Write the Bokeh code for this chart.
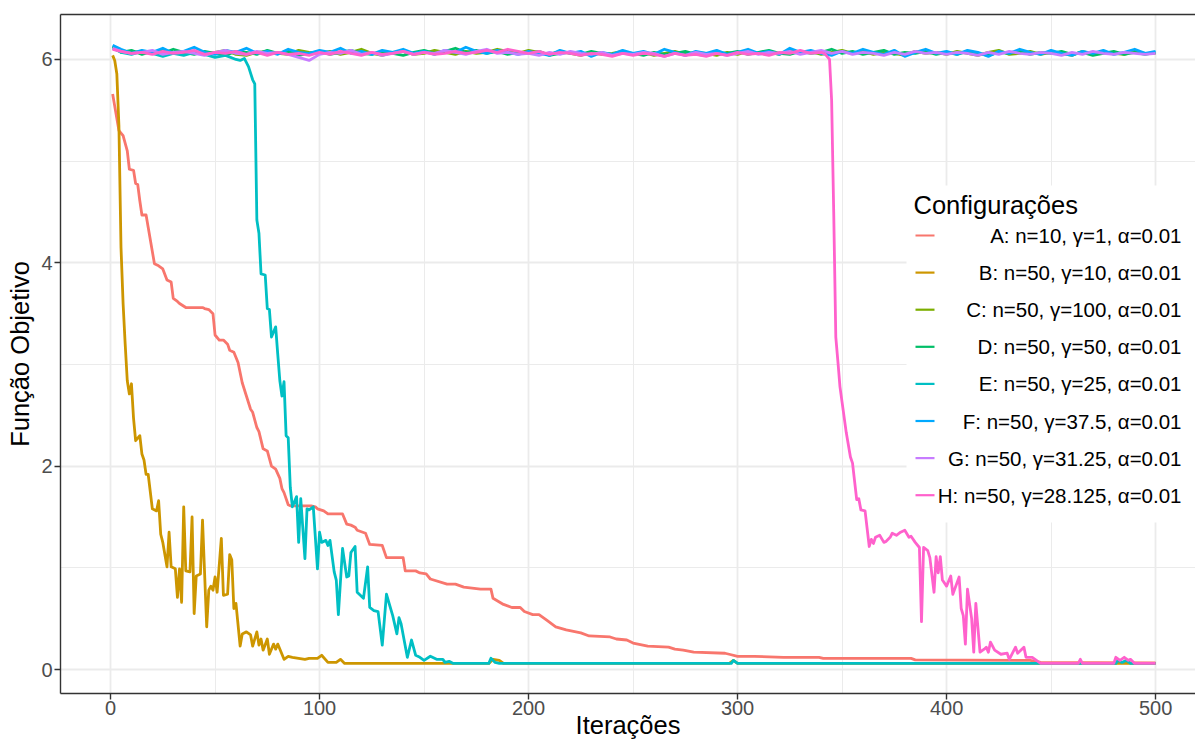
from bokeh.plotting import figure
from bokeh.models import ColumnDataSource, FixedTicker, LinearAxis, Range1d
from bokeh.core.properties import value
from bokeh.embed import file_html
from bokeh.resources import INLINE

# ---------------- data ----------------
SERIES_NAMES = ["A", "B", "C", "D", "E", "F", "G", "H"]
LABELS = ["A: n=10, γ=1, α=0.01", "B: n=50, γ=10, α=0.01", "C: n=50, γ=100, α=0.01",
          "D: n=50, γ=50, α=0.01", "E: n=50, γ=25, α=0.01", "F: n=50, γ=37.5, α=0.01",
          "G: n=50, γ=31.25, α=0.01", "H: n=50, γ=28.125, α=0.01"]
COLORS = ["#F8766D", "#CD9600", "#7CAE00", "#00BE67", "#00BFC4", "#00A9FF", "#C77CFF", "#FF61CC"]

X_TICKS = [0, 100, 200, 300, 400, 500]
X_MINOR = [50, 150, 250, 350, 450]
Y_TICKS = [0, 2, 4, 6]
Y_MINOR = [1, 3, 5]

# sampled iterations for the flat (non-converging) band
TOP_IT = [1] + list(range(5, 501, 5))

A_IT = [1, 4, 6, 8, 9, 11, 12, 13, 14, 15, 17, 18, 21, 23, 25, 27, 29, 30, 32, 33, 36, 44, 45, 47, 49,
        50, 52, 54, 56, 57, 59, 61, 63, 65, 67, 68, 70, 71, 73, 75, 77, 79, 81, 82, 83, 85, 86, 96, 98,
        99, 102, 104, 111, 113, 115, 117, 118, 122, 124, 130, 132, 140, 141, 146, 148, 151, 153, 161,
        165, 169, 177, 182, 183, 188, 192, 196, 198, 202, 205, 209, 213, 218, 225, 229, 239, 242, 247,
        250, 257, 267, 270, 274, 279, 294, 296, 300, 308, 322, 339, 341, 383, 385, 440, 445, 500]
A_VAL = [5.66, 5.30, 5.25, 5.10, 4.92, 4.91, 4.78, 4.77, 4.61, 4.47, 4.47, 4.35, 3.99, 3.97, 3.94, 3.83,
         3.81, 3.65, 3.62, 3.60, 3.56, 3.56, 3.55, 3.54, 3.50, 3.29, 3.24, 3.24, 3.20, 3.14, 3.12, 3.02,
         2.82, 2.69, 2.56, 2.53, 2.38, 2.34, 2.17, 2.15, 2.00, 1.97, 1.88, 1.78, 1.74, 1.62, 1.61, 1.61,
         1.60, 1.58, 1.56, 1.53, 1.53, 1.43, 1.42, 1.40, 1.37, 1.34, 1.23, 1.22, 1.10, 1.10, 0.97, 0.97,
         0.95, 0.94, 0.89, 0.84, 0.84, 0.81, 0.79, 0.79, 0.70, 0.64, 0.61, 0.61, 0.57, 0.54, 0.54, 0.48,
         0.42, 0.39, 0.36, 0.33, 0.32, 0.30, 0.29, 0.26, 0.23, 0.22, 0.20, 0.19, 0.17, 0.16, 0.15, 0.13,
         0.13, 0.12, 0.12, 0.11, 0.11, 0.095, 0.09, 0.07, 0.065]

B_IT = [1, 2, 3, 4, 5, 6, 7, 8, 9, 10, 11, 12, 14, 15, 16, 17, 18, 20, 22, 23, 24, 25, 27, 28, 29, 31,
        32, 33, 34, 35, 36, 38, 39, 40, 41, 43, 44, 46, 47, 48, 49, 50, 51, 53, 54, 56, 57, 58, 59, 60,
        62, 63, 65, 67, 68, 70, 71, 72, 73, 75, 76, 78, 79, 80, 83, 85, 87, 90, 93, 95, 99, 101, 104,
        108, 110, 112, 181, 183, 186, 188, 296, 298, 300, 500]
B_VAL = [6.04, 5.99, 5.86, 5.35, 4.15, 3.60, 3.20, 2.84, 2.71, 2.81, 2.47, 2.25, 2.30, 2.12, 2.06, 1.92,
         1.92, 1.58, 1.56, 1.66, 1.33, 1.25, 1.01, 1.35, 1.01, 0.99, 0.71, 0.99, 0.66, 1.60, 0.97, 0.96,
         1.50, 0.55, 0.92, 0.94, 1.47, 0.42, 0.78, 0.82, 0.78, 0.91, 0.76, 1.29, 0.73, 0.74, 1.13, 1.08,
         0.60, 0.65, 0.23, 0.35, 0.37, 0.34, 0.23, 0.37, 0.24, 0.30, 0.19, 0.30, 0.15, 0.25, 0.20, 0.25,
         0.10, 0.13, 0.12, 0.11, 0.10, 0.11, 0.11, 0.14, 0.07, 0.07, 0.10, 0.06, 0.06, 0.10, 0.09, 0.06,
         0.06, 0.09, 0.06, 0.06]

C_VAL = [6.12, 6.09, 6.07, 6.08, 6.06, 6.09, 6.07, 6.05, 6.08, 6.06,
         6.07, 6.09, 6.05, 6.04, 6.07, 6.08, 6.06, 6.05, 6.09, 6.07,
         6.06, 6.08, 6.05, 6.07, 6.10, 6.06, 6.04, 6.07, 6.08, 6.05,
         6.06, 6.09, 6.07, 6.05, 6.08, 6.06, 6.07, 6.10, 6.08, 6.06,
         6.09, 6.07, 6.05, 6.08, 6.06, 6.04, 6.07, 6.05, 6.06, 6.08,
         6.05, 6.07, 6.04, 6.06, 6.08, 6.05, 6.07, 6.06, 6.04, 6.07,
         6.05, 6.08, 6.06, 6.07, 6.05, 6.09, 6.06, 6.08, 6.05, 6.07,
         6.09, 6.06, 6.08, 6.05, 6.07, 6.06, 6.04, 6.08, 6.06, 6.07,
         6.05, 6.08, 6.06, 6.04, 6.07, 6.09, 6.05, 6.06, 6.08, 6.05,
         6.07, 6.06, 6.04, 6.08, 6.05, 6.07, 6.06, 6.05, 6.08, 6.06, 6.06]

D_VAL = [6.13, 6.07, 6.09, 6.05, 6.08, 6.06, 6.10, 6.07, 6.05, 6.08,
         6.06, 6.04, 6.08, 6.07, 6.05, 6.09, 6.06, 6.08, 6.04, 6.06,
         6.08, 6.05, 6.07, 6.09, 6.06, 6.05, 6.08, 6.06, 6.04, 6.07,
         6.09, 6.06, 6.08, 6.11, 6.07, 6.09, 6.06, 6.08, 6.05, 6.07,
         6.06, 6.08, 6.04, 6.06, 6.07, 6.05, 6.08, 6.06, 6.05, 6.07,
         6.06, 6.04, 6.07, 6.05, 6.06, 6.08, 6.05, 6.04, 6.07, 6.06,
         6.08, 6.05, 6.07, 6.09, 6.06, 6.05, 6.08, 6.06, 6.07, 6.10,
         6.06, 6.08, 6.05, 6.07, 6.09, 6.05, 6.07, 6.06, 6.08, 6.05,
         6.07, 6.05, 6.08, 6.06, 6.04, 6.07, 6.06, 6.08, 6.05, 6.07,
         6.06, 6.08, 6.05, 6.07, 6.04, 6.06, 6.08, 6.05, 6.07, 6.05, 6.07]

E_TOP_IT = [1] + list(range(5, 61, 5))
E_TOP_VAL = [6.11, 6.07, 6.05, 6.08, 6.06, 6.03, 6.06, 6.04, 6.07, 6.05, 6.02, 6.04, 6.00]
E_DROP_IT = [62, 64, 66, 68, 69, 70, 71, 72, 74, 75, 76, 77, 79, 80, 81, 82, 83, 84, 85, 86, 87, 89,
             90, 91, 93, 94, 95, 97, 99, 100, 101, 103, 104, 105, 107, 108, 109, 111, 113, 114, 115,
             117, 118, 119, 121, 123, 124, 126, 128, 130, 132, 135, 137, 138, 139, 142, 144, 146, 148,
             150, 153, 156, 159, 160, 162, 164, 181, 182, 184, 186, 297, 298, 300, 481, 482, 484, 486,
             488, 500]
E_DROP_VAL = [5.99, 6.01, 5.93, 5.80, 5.76, 4.42, 4.29, 3.89, 3.88, 3.55, 3.54, 3.27, 3.37, 3.10, 2.84,
              2.69, 2.83, 2.30, 2.28, 1.79, 1.60, 1.70, 1.25, 1.68, 1.09, 1.58, 1.57, 1.60, 0.99, 1.35,
              1.25, 1.27, 1.22, 1.27, 0.96, 0.88, 0.54, 1.19, 0.91, 0.92, 1.15, 1.21, 0.76, 0.74, 0.70,
              1.01, 0.61, 0.58, 0.57, 0.24, 0.74, 0.53, 0.35, 0.51, 0.45, 0.12, 0.29, 0.14, 0.12, 0.09,
              0.13, 0.10, 0.10, 0.07, 0.08, 0.06, 0.06, 0.11, 0.07, 0.06, 0.06, 0.09, 0.06, 0.06, 0.09,
              0.07, 0.09, 0.06, 0.06]

F_VAL = [6.14, 6.10, 6.06, 6.09, 6.07, 6.11, 6.06, 6.08, 6.12, 6.07,
         6.05, 6.09, 6.07, 6.11, 6.06, 6.08, 6.05, 6.10, 6.07, 6.06,
         6.09, 6.07, 6.11, 6.06, 6.08, 6.05, 6.09, 6.07, 6.10, 6.06,
         6.08, 6.05, 6.09, 6.07, 6.12, 6.08, 6.06, 6.09, 6.07, 6.05,
         6.08, 6.06, 6.04, 6.09, 6.06, 6.08, 6.03, 6.07, 6.05, 6.09,
         6.06, 6.08, 6.05, 6.10, 6.07, 6.04, 6.08, 6.06, 6.09, 6.05,
         6.07, 6.10, 6.06, 6.08, 6.05, 6.11, 6.07, 6.09, 6.06, 6.04,
         6.08, 6.06, 6.10, 6.07, 6.05, 6.09, 6.03, 6.07, 6.10, 6.06,
         6.08, 6.05, 6.09, 6.07, 6.03, 6.08, 6.06, 6.10, 6.07, 6.05,
         6.09, 6.06, 6.04, 6.08, 6.06, 6.09, 6.05, 6.07, 6.10, 6.06, 6.08]

G_VAL = [6.11, 6.08, 6.06, 6.07, 6.09, 6.05, 6.07, 6.08, 6.06, 6.04,
         6.07, 6.09, 6.06, 6.05, 6.08, 6.06, 6.07, 6.05, 6.02, 5.99,
         6.05, 6.07, 6.06, 6.09, 6.05, 6.07, 6.04, 6.06, 6.08, 6.05,
         6.07, 6.06, 6.09, 6.07, 6.05, 6.08, 6.10, 6.06, 6.07, 6.05,
         6.06, 6.04, 6.07, 6.05, 6.08, 6.06, 6.05, 6.07, 6.04, 6.06,
         6.05, 6.07, 6.06, 6.03, 6.06, 6.04, 6.07, 6.05, 6.06, 6.04,
         6.06, 6.08, 6.05, 6.07, 6.06, 6.08, 6.05, 6.07, 6.09, 6.06,
         6.08, 6.05, 6.07, 6.06, 6.04, 6.07, 6.05, 6.08, 6.06, 6.07,
         6.05, 6.07, 6.06, 6.04, 6.07, 6.05, 6.08, 6.06, 6.05, 6.07,
         6.06, 6.04, 6.07, 6.05, 6.08, 6.06, 6.05, 6.07, 6.06, 6.05, 6.06]

H_TOP_IT = [1] + list(range(5, 341, 5))
H_TOP_VAL = [6.10, 6.08, 6.06, 6.07, 6.05, 6.08, 6.06, 6.07, 6.09, 6.05,
             6.07, 6.06, 6.08, 6.05, 6.07, 6.04, 6.07, 6.05, 6.06, 6.04,
             6.07, 6.05, 6.08, 6.06, 6.04, 6.07, 6.05, 6.06, 6.08, 6.05,
             6.07, 6.05, 6.06, 6.08, 6.06, 6.07, 6.09, 6.07, 6.10, 6.08,
             6.06, 6.08, 6.05, 6.07, 6.06, 6.04, 6.06, 6.05, 6.03, 6.06,
             6.04, 6.06, 6.05, 6.03, 6.06, 6.04, 6.05, 6.03, 6.06, 6.04,
             6.07, 6.05, 6.06, 6.04, 6.07, 6.06, 6.09, 6.06, 6.07]
H_DROP_IT = [342, 344, 345, 346, 347, 348, 349, 350, 352, 354, 355, 357, 358, 359, 361, 363, 364, 365,
             366, 368, 370, 371, 373, 374, 376, 378, 380, 382, 383, 385, 387, 388, 389, 391, 392, 394,
             395, 396, 397, 398, 400, 402, 403, 406, 407, 408, 409, 410, 412, 413, 414, 416, 418, 419,
             420, 421, 423, 426, 429, 430, 433, 434, 437, 438, 441, 443, 445, 463, 464, 465, 480, 481,
             483, 485, 487, 488, 490, 500]
H_DROP_VAL = [6.05, 6.00, 5.60, 4.50, 3.27, 3.03, 2.78, 2.63, 2.33, 2.09, 2.03, 1.67, 1.68, 1.57, 1.56,
              1.21, 1.28, 1.24, 1.30, 1.32, 1.25, 1.26, 1.30, 1.34, 1.32, 1.35, 1.37, 1.30, 1.31, 1.25,
              1.20, 0.47, 1.20, 1.17, 1.10, 0.76, 1.11, 0.95, 1.11, 0.88, 0.82, 0.92, 0.74, 0.91, 0.60,
              0.53, 0.25, 0.79, 0.50, 0.17, 0.65, 0.17, 0.20, 0.22, 0.17, 0.27, 0.19, 0.15, 0.16, 0.10,
              0.22, 0.16, 0.22, 0.12, 0.12, 0.09, 0.06, 0.06, 0.10, 0.06, 0.06, 0.12, 0.09, 0.12, 0.09,
              0.10, 0.06, 0.06]

SERIES = {
    "A": (A_IT, A_VAL),
    "B": (B_IT, B_VAL),
    "C": (TOP_IT, C_VAL),
    "D": (TOP_IT, D_VAL),
    "E": (E_TOP_IT + E_DROP_IT, E_TOP_VAL + E_DROP_VAL),
    "F": (TOP_IT, F_VAL),
    "G": (TOP_IT, G_VAL),
    "H": (H_TOP_IT + H_DROP_IT, H_TOP_VAL + H_DROP_VAL),
}

# ---------------- layout ----------------
W, H = 1195, 743
FRAME_L, FRAME_T, FRAME_B = 60, 14, 50
X0, X1 = -23.95, 519.1
Y0, Y1 = -0.236, 6.442
FONT = "Liberation Sans"

p = figure(width=W, height=H, output_backend="svg", toolbar_location=None,
           x_range=Range1d(X0, X1), y_range=Range1d(Y0, Y1),
           min_border_left=FRAME_L, min_border_right=0, min_border_top=FRAME_T,
           min_border_bottom=FRAME_B, background_fill_color="white", border_fill_color="white",
           outline_line_color=None)

FRAME_W = W - FRAME_L
FRAME_H = H - FRAME_T - FRAME_B


def dx(px):
    return X0 + (px - FRAME_L) * (X1 - X0) / FRAME_W


def dy(py):
    return Y1 - (py - FRAME_T) * (Y1 - Y0) / FRAME_H


# axes
p.xaxis.ticker = FixedTicker(ticks=X_TICKS, minor_ticks=X_MINOR)
p.yaxis.ticker = FixedTicker(ticks=Y_TICKS, minor_ticks=Y_MINOR)
for ax in (p.xaxis, p.yaxis):
    ax.axis_line_color = "#333333"
    ax.axis_line_width = 1.4
    ax.major_tick_line_color = "#333333"
    ax.major_tick_line_width = 1.4
    ax.major_tick_out = 6
    ax.major_tick_in = 0
    ax.minor_tick_line_color = None
    ax.major_label_text_font = FONT
    ax.major_label_text_font_size = "20px"
    ax.major_label_text_color = "#4D4D4D"
    ax.axis_label_text_font = FONT
    ax.axis_label_text_font_size = "25.5px"
    ax.axis_label_text_font_style = "normal"
    ax.axis_label_text_color = "black"
p.xaxis.axis_label = "Iterações"
p.yaxis.axis_label = "Função Objetivo"
p.xaxis.major_label_standoff = 1
p.xaxis.axis_label_standoff = -7
p.yaxis.major_label_standoff = 2
p.yaxis.axis_label_standoff = 4

top_axis = LinearAxis(ticker=FixedTicker(ticks=[]), major_tick_out=0, major_tick_in=0,
                      minor_tick_out=0, minor_tick_in=0, major_label_text_font_size="0px",
                      major_label_standoff=0, axis_line_color="#333333", axis_line_width=1.4)
p.add_layout(top_axis, "above")

# grid
for g in (p.xgrid, p.ygrid):
    g.grid_line_color = "#EBEBEB"
    g.grid_line_width = 1.8
    g.minor_grid_line_color = "#EBEBEB"
    g.minor_grid_line_width = 1.0

# series
for name, color in zip(SERIES_NAMES, COLORS):
    its, vals = SERIES[name]
    src = ColumnDataSource(dict(x=its, y=vals))
    p.line("x", "y", source=src, line_color=color, line_width=2.8, line_join="round")

# legend drawn inside the panel
LEG_L, LEG_T, LEG_B = 906, 185, 522
p.quad(left=[dx(LEG_L)], right=[dx(W + 5)], top=[dy(LEG_T)], bottom=[dy(LEG_B)],
       fill_color="white", line_color=None)
p.text(x=[dx(913)], y=[dy(204)], text=["Configurações"], text_font=value(FONT),
       text_font_size="25.5px", text_color="black", text_baseline="middle", text_align="left")
row_y = [dy(235 + 37.1 * i) for i in range(len(LABELS))]
p.segment(x0=[dx(915)] * len(LABELS), x1=[dx(934)] * len(LABELS), y0=row_y, y1=row_y,
          line_color=COLORS, line_width=2.2)
p.text(x=[dx(1181)] * len(LABELS), y=row_y, text=LABELS, text_font=value(FONT),
       text_font_size="20.5px", text_color="black", text_baseline="middle", text_align="right")

open("out.html", "w").write(file_html(p, INLINE))
